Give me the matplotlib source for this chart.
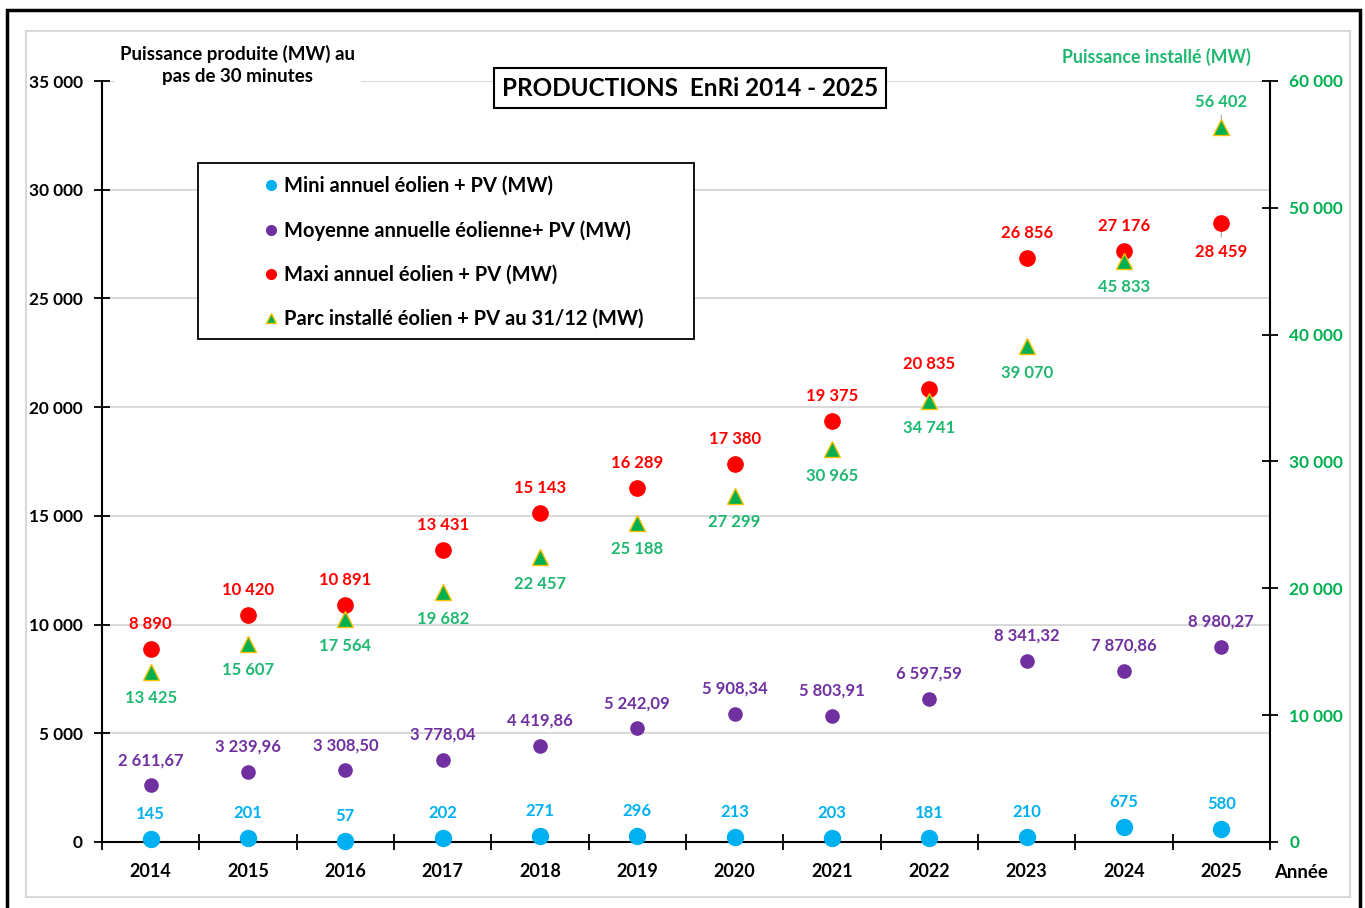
import matplotlib.pyplot as plt
from matplotlib.lines import Line2D
from matplotlib.patches import Rectangle

plt.rcParams['font.family'] = ['Lato', 'DejaVu Sans']
plt.rcParams['font.weight'] = 'bold'

# Data
years = ['2014', '2015', '2016', '2017', '2018', '2019', '2020', '2021', '2022', '2023', '2024', '2025']
mini = [145, 201, 57, 202, 271, 296, 213, 203, 181, 210, 675, 580]
moyenne = [2611.67, 3239.96, 3308.50, 3778.04, 4419.86, 5242.09, 5908.34, 5803.91, 6597.59, 8341.32, 7870.86, 8980.27]
maxi = [8890, 10420, 10891, 13431, 15143, 16289, 17380, 19375, 20835, 26856, 27176, 28459]
parc = [13425, 15607, 17564, 19682, 22457, 25188, 27299, 30965, 34741, 39070, 45833, 56402]

c_blue = '#00b0f0'
c_purple = '#7030a0'
c_red = '#ff0000'
c_green = '#00b050'
c_lblgreen = '#1fb870'


def fr(v, dec=0):
    s = f"{v:,.{dec}f}"
    return s.replace(',', ' ').replace('.', ',')


W, H = 1365, 908
fig = plt.figure(figsize=(W / 100, H / 100), dpi=100)
ax = fig.add_axes([102 / W, 1 - 842 / H, (1270 - 102) / W, (842 - 81) / H])
ax2 = ax.twinx()

x = list(range(len(years)))

# frames around the chart
fig.patches.append(Rectangle((7 / W, -0.01), (1360 - 7) / W, 1 - 10 / H + 0.01,
                             transform=fig.transFigure, fill=False,
                             edgecolor='black', linewidth=2.5))
fig.patches.append(Rectangle((26 / W, 1 - 897 / H), (1350 - 26) / W, (897 - 31) / H,
                             transform=fig.transFigure, fill=False,
                             edgecolor='#d9d9d9', linewidth=1.5))

# left axis
ax.set_xlim(-0.5, 11.5)
ax.set_ylim(0, 35000)
ax.set_yticks(range(0, 35001, 5000))
ax.set_yticklabels([fr(v) for v in range(0, 35001, 5000)])
ax.grid(axis='y', color='#d9d9d9', linewidth=1.5)
ax.set_axisbelow(True)
ax.tick_params(axis='y', direction='inout', length=12, width=1.3, labelsize=12.4, pad=8)
ax.set_xticks(x)
ax.set_xticklabels(years)
ax.set_xticks([i - 0.5 for i in range(13)], minor=True)
ax.tick_params(axis='x', which='major', length=0, labelsize=13, pad=15)
ax.tick_params(axis='x', which='minor', direction='inout', length=12, width=1.3)
for s in ['top', 'right']:
    ax.spines[s].set_visible(False)
ax.spines['left'].set_linewidth(1.5)
ax.spines['bottom'].set_linewidth(1.5)

# right axis
ax2.set_ylim(0, 60000)
ax2.set_yticks(range(0, 60001, 10000))
ax2.set_yticklabels([fr(v) for v in range(0, 60001, 10000)], color=c_green)
ax2.tick_params(axis='y', direction='inout', length=12, width=1.3, labelsize=12.4, pad=8)
for s in ['top', 'left', 'bottom']:
    ax2.spines[s].set_visible(False)
ax2.spines['right'].set_linewidth(1.5)

# series
ax.plot(x, mini, 'o', color=c_blue, ms=11.5, zorder=5, clip_on=False)
ax.plot(x, moyenne, 'o', color=c_purple, ms=9.5, zorder=5)
ax.plot(x, maxi, 'o', color=c_red, ms=11, zorder=5)
ax2.plot(x, parc, '^', color=c_green, markeredgecolor='#ffc000', markeredgewidth=1, ms=11, zorder=6)

lab = dict(ha='center', va='center', fontsize=12, textcoords='offset points')
for i in x:
    ax.annotate(fr(mini[i]), (i, mini[i]), xytext=(0, 18), color=c_blue, **lab)
    ax.annotate(fr(moyenne[i], 2), (i, moyenne[i]), xytext=(0, 18), color=c_purple, **lab)
    dy_r = -21 if i == 11 else 18
    ax.annotate(fr(maxi[i]), (i, maxi[i]), xytext=(0, dy_r), color=c_red, **lab)
    dy_g = 18 if i == 11 else -19
    ax2.annotate(fr(parc[i]), (i, parc[i]), xytext=(0, dy_g), color=c_lblgreen, **lab)

# small leader lines for 2025
ax.annotate('', (11, maxi[11]), xytext=(0, -12), textcoords='offset points',
            arrowprops=dict(arrowstyle='-', color='#a0a0a0', lw=0.8))
ax2.annotate('', (11, parc[11]), xytext=(0, 10), textcoords='offset points',
             arrowprops=dict(arrowstyle='-', color='#a0a0a0', lw=0.8))

# titles and axis captions
fig.text(690 / W, 1 - 88 / H, 'PRODUCTIONS  EnRi 2014 - 2025', ha='center', va='center',
         fontsize=17.5, bbox=dict(boxstyle='square,pad=0.33', facecolor='white',
                                  edgecolor='black', linewidth=1.5))
fig.text(238 / W, 1 - 65 / H, 'Puissance produite (MW) au\npas de 30 minutes', ha='center',
         va='center', fontsize=13.5, linespacing=1.4,
         bbox=dict(boxstyle='square,pad=0.3', facecolor='white', edgecolor='none'))
fig.text(1156 / W, 1 - 57 / H, 'Puissance installé (MW)', ha='center', va='center',
         fontsize=12.8, color=c_lblgreen)
fig.text(1301 / W, 1 - 872 / H, 'Année', ha='center', va='center', fontsize=13.4)

# legend
fig.patches.append(Rectangle((198 / W, 1 - 339 / H), (694 - 198) / W, (339 - 163) / H,
                             transform=fig.transFigure, facecolor='white',
                             edgecolor='black', linewidth=1.3, zorder=10))
handles = [
    Line2D([], [], ls='none', marker='o', color=c_blue, ms=7),
    Line2D([], [], ls='none', marker='o', color=c_purple, ms=7),
    Line2D([], [], ls='none', marker='o', color=c_red, ms=7),
    Line2D([], [], ls='none', marker='^', color=c_green, markeredgecolor='#ffc000', ms=7),
]
labels = ['Mini annuel éolien + PV (MW)', 'Moyenne annuelle éolienne+ PV (MW)',
          'Maxi annuel éolien + PV (MW)', 'Parc installé éolien + PV au 31/12 (MW)']
leg = fig.legend(handles, labels, loc='upper left', bbox_to_anchor=(258 / W, 1 - 168 / H),
                 frameon=False, fontsize=14.5, handlelength=0.5, handletextpad=0.4,
                 labelspacing=1.2, borderaxespad=0)
leg.set_zorder(11)

fig.savefig('out.png', dpi=100)
